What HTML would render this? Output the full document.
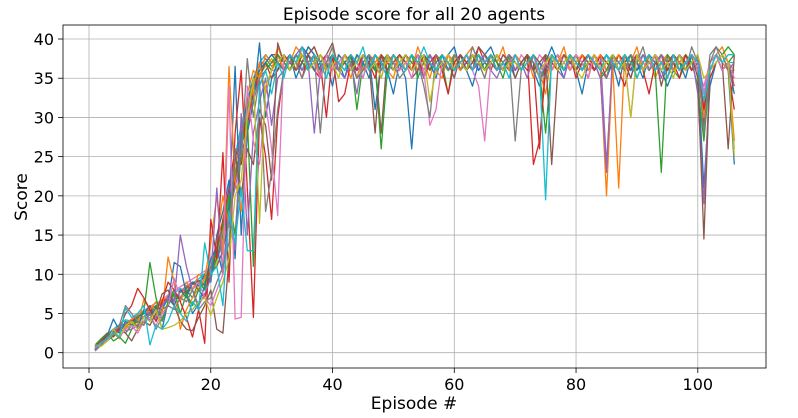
<!DOCTYPE html>
<html><head><meta charset="utf-8"><style>
body{margin:0;background:#fff;}
svg{display:block;font-family:"DejaVu Sans","Liberation Sans",sans-serif;}
</style></head><body>
<svg id="chart" width="798" height="418" viewBox="0 0 798 418">
<rect x="0" y="0" width="798" height="418" fill="#fff"/>
<g id="grid"></g><g id="series"></g><g id="axes"></g>
<text x="414" y="20" font-size="17" text-anchor="middle" fill="#000">Episode score for all 20 agents</text>
<text x="414" y="409" font-size="17" text-anchor="middle" fill="#000">Episode #</text>
<text transform="translate(27,197) rotate(-90)" font-size="17" text-anchor="middle" fill="#000">Score</text>
</svg>
<script>
const xTicks=[0,20,40,60,80,100];
const yTicks=[0,5,10,15,20,25,30,35,40];
const colors=["#1f77b4","#ff7f0e","#2ca02c","#d62728","#9467bd","#8c564b","#e377c2","#7f7f7f","#bcbd22","#17becf"];
const agent0=[0.3,1.5,2.2,4.3,2.8,3.5,4.1,3.2,5.5,4.0,5.8,3.0,6.5,11.5,11.0,7.5,5.0,6.2,8.5,12.0,13.5,10.0,18.0,36.5,15.0,28.0,32.0,39.5,30.0,35.0,37,36,38,35,37,39,38,36,37,34,38,37,36,38,37,35,38,37,36,33,37,35,26,36,38,37,35,38,36,37,38,36,34,37,38,39,37,36,38,35,37,38,36,34,37,39,37,35,38,36,33,37,38,36,35,37,34,38,36,37,35,38,37,36,34,36,37,35,38,36,21,34,37,38,36,24];
const agent1=[0.5,1.2,2.0,2.5,1.8,3.2,4.0,3.5,6.8,5.5,6.5,5.0,12.2,9.0,3.0,5.5,7.0,8.2,9.5,14.0,20.0,12.5,36.5,22.0,18.0,30.0,34.0,37.0,33.0,36.0,39,37,38,36,39,37,38,35,37,39,36,38,37,35,38,36,37,38,36,35,38,37,36,39,37,38,36,35,38,37,36,38,39,37,36,38,37,39,36,38,37,35,38,36,33,38,37,39,36,38,37,35,38,36,20,37,21,38,37,39,36,38,35,37,38,36,37,38,36,37,30,37,38,39,37,27];
const agent2=[1.0,1.8,2.5,1.5,2.0,1.2,3.0,4.5,5.2,11.5,7.0,4.0,6.5,8.0,5.0,7.5,6.0,8.0,9.0,11.0,13.0,16.0,20.0,15.0,26.0,30.0,11.0,34.0,36.0,37.0,38,37,36,38,37,36,38,37,35,38,37,36,38,37,35,38,37,26,36,38,37,36,38,35,37,38,36,37,33,38,37,36,38,37,36,38,37,35,38,37,36,38,37,35,36,38,37,36,38,37,36,38,37,35,36,38,37,36,38,35,37,38,36,23,38,37,36,38,37,34,27,36,37,38,39,38];
const agent3=[0.8,1.5,2.0,2.5,3.0,5.0,6.0,8.2,7.0,5.5,4.0,6.5,9.0,8.0,6.5,4.5,2.0,5.5,1.2,17.0,12.0,25.5,9.0,28.0,36.0,21.0,4.5,30.0,25.0,17.0,30,36,38,37,35,38,39,37,30,38,32,33,37,36,38,37,35,38,36,37,38,37,36,38,35,37,38,36,33,37,38,37,36,39,37,38,36,37,38,36,37,38,24,27,36,38,37,36,38,35,37,38,36,37,35,38,36,34,37,38,36,33,37,38,36,37,35,38,36,37,31,35,37,38,36,31];
const agent4=[0.2,1.0,1.8,2.5,3.5,2.8,3.0,3.5,4.0,5.0,4.5,6.0,7.0,6.5,15.0,11.0,8.0,6.0,7.5,9.5,21.0,10.0,17.0,13.0,30.5,15.0,28.0,32.0,35.0,29.0,35,36,37,38,39,37,28,36,38,37,36,35,37,33,38,36,37,35,38,36,37,38,36,37,35,38,36,37,38,36,37,38,36,37,38,36,35,37,38,36,37,35,38,36,37,38,36,35,38,37,36,38,37,35,23,38,36,37,35,38,37,36,38,35,37,38,36,37,38,33,19,36,37,38,36,34];
const agent5=[0.4,1.5,2.5,2.0,3.0,2.5,1.5,3.0,4.0,3.5,5.0,7.5,8.0,6.0,4.0,3.0,2.8,4.5,6.0,8.0,3.0,2.5,12.0,25.5,20.0,26.0,24.0,31.0,29.0,22.0,39.5,37,38,36,37,38,39,37,38,39.5,36,37,38,35,36,37,28,38,36,37,38,37,35,36,38,37,36,38,37,35,38,36,37,39,38,37,36,38,37,35,37,38,36,37,38,24,36,38,37,36,37,35,38,36,37,38,36,37,35,38,36,37,38,34,37,38,36,37,38,35,14.5,36,38,37,26,38];
const agent6=[0.6,1.2,1.5,2.5,2.0,3.0,3.5,2.5,4.0,4.5,3.5,5.0,6.0,9.5,7.0,6.5,8.0,9.0,7.0,6.0,8.0,10.0,34.0,4.3,4.5,34.0,27.0,24.0,32.0,26.0,17.5,38,36,37,38,36,37,35,38,36,37,38,36,37,35,38,37,36,38,37,36,37,35,38,36,29,31,37,38,36,37,38,36,34,27,37,38,36,37,38,36,37,38,35,37,36,38,37,36,38,37,35,38,36,37,38,36,37,30,38,37,36,38,37,35,38,36,37,38,36,33,37,38,36,37,35];
const agent7=[0.3,1.0,2.0,2.5,3.5,6.0,5.0,4.0,3.5,5.0,3.0,4.5,6.0,5.5,7.0,6.5,8.0,5.5,6.5,7.0,9.0,11.0,14.0,26.0,25.0,37.5,30.0,35.0,18.0,23.0,31,36,38,37,35,37,38,28,37,39,36,38,37,35,36,38,37,36,38,37,35,36,38,37,34,30,38,37,36,38,37,36,39,37,35,38,36,37,38,27,36,37,38,36,35,38,37,36,38,37,36,38,37,36,35,38,37,36,38,37,39,36,37,38,35,37,38,36,39,37,28,37,39,38,36,37];
const agent8=[1.0,0.8,1.5,3.0,2.0,3.5,4.0,3.0,4.5,4.0,5.5,3.0,3.2,3.5,4.0,5.0,5.5,6.5,7.0,4.8,7.0,9.0,12.0,20.0,22.0,30.0,35.0,16.5,34.0,36.0,37,38,36,37,38,36,37,38,36,37,35,38,36,37,38,36,37,35,38,36,37,38,36,37,38,32,36,37,38,36,37,36,38,37,36,37,38,36,37,37,36,37,38,36,37,38,36,37,38,36,35,37,38,36,37,38,36,37,30,38,36,37,38,36,37,35,38,36,37,38,35,36,37,38,37,25];
const agent9=[0.7,1.3,1.8,2.5,2.0,5.7,4.5,5.0,6.0,1.0,3.5,3.0,4.0,6.0,5.0,4.0,6.5,5.5,14.0,10.0,11.0,6.0,18.0,14.0,21.0,13.0,13.0,34.0,36.0,33.0,37,35,38,37,39,36,38,37,35,38,37,36,38,37,39,36,38,37,35,38,37,36,38,37,39,37,36,38,37,36,37,38,36,38,37,38,36,37,35,38,36,37,38,36,19.5,38,37,36,38,37,36,38,37,36,38,37,36,38,37,35,37,38,36,37,35,38,36,37,38,37,32,36,38,37,38,38];
const agent10=[0.5,1.2,2.0,3.0,2.5,4.0,3.5,4.5,5.0,6.0,4.0,5.5,7.0,6.0,8.0,7.0,9.0,8.5,10.0,9.0,15.0,18.0,22.0,12.0,28.0,32.0,35.0,36.0,37.0,38.0,37,38,36,37,39,38,36,37,38,36,37,35,38,36,37,38,31,37,36,38,37,36,38,37,35,38,36,37,38,39,36,37,38,36,37,38,36,37,38,36,37,38,36,37,35,38,36,37,38,36,37,38,36,37,35,38,36,37,38,36,37,36,38,37,38,36,37,38,36,37,32,37,38,36,37,33];
const agent11=[0.9,1.6,2.3,2.0,3.2,3.8,4.2,5.0,4.5,6.0,5.5,6.8,7.0,8.0,6.5,9.0,8.0,10.0,9.5,11.0,14.0,20.0,16.0,24.0,27.0,33.0,36.0,35.0,38.0,37.0,38,36,37,39,38,37,36,38,37,36,38,37,35,38,36,37,38,36,37,38,36,37,38,36,37,35,38,37,36,38,37,36,38,37,35,38,36,37,38,36,37,38,35,37,38,36,37,38,36,37,38,36,37,38,36,37,38,36,37,38,36,37,38,36,37,38,36,37,38,36,30,37,38,37,36,35];
const agent12=[0.4,1.0,1.5,2.2,3.0,2.5,3.5,4.0,3.8,5.0,6.0,5.5,6.0,7.5,7.0,8.0,7.0,9.0,8.0,10.0,12.0,15.0,19.0,23.0,26.0,31.0,34.0,36.0,37.0,36.0,38,37,36,38,37,39,38,36,37,38,36,37,38,31,37,38,36,37,38,36,37,38,36,37,38,36,37,38,36,37,38,36,37,38,36,37,38,36,37,38,36,37,38,36,28,37,38,36,37,38,36,37,38,36,37,38,36,37,38,36,37,38,36,37,38,36,35,37,38,36,31,37,38,36,37,38];
const agent13=[0.6,1.4,2.0,2.8,3.0,3.6,4.0,4.5,5.0,5.5,6.0,6.5,7.0,6.0,8.0,7.5,9.0,8.0,7.0,10.0,13.0,17.0,21.0,26.0,24.0,29.0,33.0,36.0,37.0,35.0,36,38,37,36,38,37,36,35,38,37,36,38,37,36,38,37,36,38,37,36,38,37,36,38,37,36,38,37,36,38,37,36,38,37,36,38,37,36,38,37,36,38,37,26,38,37,36,38,37,36,38,37,36,38,37,36,38,37,36,38,37,36,38,37,36,38,37,36,38,37,29,37,38,36,37,34];
const agent14=[0.3,1.1,1.9,2.4,2.8,3.4,4.2,3.8,4.6,5.2,5.8,6.2,7.2,6.8,7.8,8.5,9.0,8.0,9.5,11.0,12.0,14.0,18.0,21.0,25.0,28.0,32.0,35.0,36.0,37.0,37,36,38,37,36,38,37,36,38,37,36,38,37,36,38,37,36,38,37,36,38,37,36,38,37,36,38,37,36,38,37,36,38,37,36,38,37,36,38,37,36,38,37,36,38,37,36,38,37,36,38,37,36,38,24,37,36,38,37,36,38,37,36,38,37,36,38,37,36,38,33,37,38,36,37,35];
const agent15=[0.5,1.3,2.1,2.6,3.1,3.3,3.9,4.4,5.1,4.8,5.6,6.4,6.9,7.4,7.0,8.3,8.8,9.2,8.6,10.5,11.0,13.0,17.0,22.0,26.0,30.0,33.0,35.0,37.0,38.0,38,37,36,38,37,36,38,37,36,38,37,36,38,37,36,38,37,28,38,37,36,38,37,36,38,37,36,38,37,36,38,37,36,38,37,36,38,37,36,38,37,36,38,37,36,38,37,36,38,37,36,38,37,36,38,37,36,38,37,36,38,37,36,38,37,36,38,37,36,38,28,37,38,37,36,37];
const agent16=[0.7,1.5,2.2,2.9,3.4,3.7,4.3,4.9,5.4,5.9,6.3,6.7,7.4,7.9,8.4,8.9,9.4,9.9,10.4,11.0,12.5,15.5,19.5,24.0,27.0,31.0,34.0,36.0,37.0,36.0,36,38,37,36,38,37,36,38,37,36,38,37,36,38,37,36,38,37,36,38,37,36,38,37,36,38,37,36,38,37,36,38,37,36,38,37,36,38,37,36,38,37,36,38,37,36,38,37,36,38,37,36,38,37,36,38,37,36,38,37,36,38,37,36,38,37,36,38,37,36,34,37,38,36,37,36];
const agent17=[0.4,1.0,1.7,2.3,2.9,3.5,4.1,4.7,5.3,5.0,5.9,6.5,7.1,6.7,7.7,8.2,8.7,9.1,9.6,10.2,12.0,16.0,20.0,24.5,28.0,31.5,34.5,36.5,37.5,36.5,37,36,38,37,36,38,37,36,38,37,36,38,37,36,38,37,36,38,37,36,38,37,36,38,37,36,38,37,36,38,37,36,38,37,36,38,37,36,38,37,36,38,37,36,38,37,36,38,37,36,38,37,36,38,37,36,38,37,36,38,37,36,38,37,36,38,37,36,38,37,31,38,39,37,36,36];
const agent18=[0.6,1.2,1.9,2.7,3.3,3.0,3.8,4.2,5.0,5.4,4.8,6.0,6.6,7.2,6.8,7.6,8.1,9.0,8.4,9.8,11.5,14.5,18.5,22.5,26.5,30.5,33.5,35.5,36.5,37.5,36,37,38,36,37,38,36,37,38,36,37,38,36,37,38,36,37,38,36,37,38,36,37,38,36,37,38,36,37,38,36,37,38,36,37,38,36,37,38,36,37,38,36,37,38,36,37,38,36,37,38,36,37,38,36,37,38,36,37,38,36,37,38,36,37,38,36,37,38,36,33,37,38,36,37,26];
const agent19=[0.8,1.6,2.4,3.0,3.6,4.2,4.0,4.6,5.2,5.8,6.4,5.9,7.0,7.6,8.2,7.8,8.9,9.4,10.1,10.8,13.5,16.5,20.5,25.0,29.0,32.0,35.0,37.0,38.0,37.0,38,36,37,38,36,37,38,36,37,38,36,37,38,36,37,38,36,37,38,36,37,38,36,37,38,36,37,38,36,37,38,36,37,38,36,37,38,36,37,38,36,37,38,36,37,38,36,37,38,36,37,38,36,37,38,36,37,38,36,37,38,36,37,38,36,37,38,36,37,38,31,37,38,36,37,37];
const agents=[agent19,agent18,agent17,agent16,agent15,agent14,agent13,agent12,agent11,agent10,agent0,agent1,agent2,agent3,agent4,agent5,agent6,agent7,agent8,agent9];
const agentIds=[19,18,17,16,15,14,13,12,11,10,0,1,2,3,4,5,6,7,8,9];

const L=63,R=766,T=25,B=368;
const xs=v=>89+v*6.088;
const ys=v=>352.7-v*7.8425;
const NS="http://www.w3.org/2000/svg";
function mk(tag,attrs,parent){const e=document.createElementNS(NS,tag);for(const k in attrs)e.setAttribute(k,attrs[k]);parent.appendChild(e);return e;}
const grid=document.getElementById('grid'),axes=document.getElementById('axes'),ser=document.getElementById('series');
xTicks.forEach(t=>{
  const g=mk('line',{x1:xs(t),x2:xs(t),y1:T,y2:B,stroke:'#b0b0b0','stroke-width':0.8},grid);
  
  
  const tk=mk('line',{x1:xs(t),x2:xs(t),y1:B,y2:B+5,stroke:'#000','stroke-width':0.8},axes);
  
  
  const tx=mk('text',{x:xs(t),y:B+22,'font-size':16,'text-anchor':'middle',fill:'#000'},axes);
  tx.textContent=t;
  
  
});
yTicks.forEach(t=>{
  const g=mk('line',{x1:L,x2:R,y1:ys(t),y2:ys(t),stroke:'#b0b0b0','stroke-width':0.8},grid);
  
  
  const tk=mk('line',{x1:L-5,x2:L,y1:ys(t),y2:ys(t),stroke:'#000','stroke-width':0.8},axes);
  
  
  const tx=mk('text',{x:L-9,y:ys(t)+6,'font-size':16,'text-anchor':'end',fill:'#000'},axes);
  tx.textContent=t;
  
  
});
const frame=mk('rect',{x:L,y:T,width:R-L,height:B-T,fill:'none',stroke:'#000','stroke-width':0.8},axes);


agents.forEach((arr,i)=>{
  const id=agentIds[i];
  const pts=arr.map((v,j)=>xs(j+1).toFixed(1)+','+ys(v).toFixed(1)).join(' ');
  const pl=mk('polyline',{points:pts,fill:'none',stroke:colors[id%10],'stroke-width':1.3,'stroke-linejoin':'round'},ser);
  
  
});
</script>
</body></html>
